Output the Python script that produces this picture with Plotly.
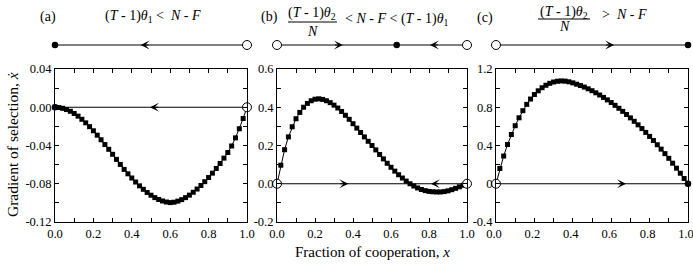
import plotly.graph_objects as go

# ---------------- data ----------------
x_frac = [0.00, 0.02, 0.04, 0.06, 0.08, 0.10, 0.12, 0.14, 0.16, 0.18,
          0.20, 0.22, 0.24, 0.26, 0.28, 0.30, 0.32, 0.34, 0.36, 0.38,
          0.40, 0.42, 0.44, 0.46, 0.48, 0.50, 0.52, 0.54, 0.56, 0.58,
          0.60, 0.62, 0.64, 0.66, 0.68, 0.70, 0.72, 0.74, 0.76, 0.78,
          0.80, 0.82, 0.84, 0.86, 0.88, 0.90, 0.92, 0.94, 0.96, 0.98, 1.00]

grad_a = [0.0000, -0.0003, -0.0011, -0.0024, -0.0042, -0.0065, -0.0093, -0.0126, -0.0163, -0.0203,
          -0.0246, -0.0292, -0.0340, -0.0390, -0.0440, -0.0492, -0.0545, -0.0598, -0.0650, -0.0696,
          -0.0740, -0.0782, -0.0822, -0.0858, -0.0891, -0.0920, -0.0945, -0.0965, -0.0980, -0.0991,
          -0.0997, -0.0993, -0.0982, -0.0966, -0.0945, -0.0919, -0.0889, -0.0855, -0.0818, -0.0778,
          -0.0735, -0.0689, -0.0640, -0.0588, -0.0532, -0.0473, -0.0405, -0.0320, -0.0225, -0.0118, 0.0000]

grad_b = [0.000, 0.097, 0.178, 0.245, 0.298, 0.340, 0.373, 0.400, 0.420, 0.434,
          0.442, 0.444, 0.441, 0.434, 0.424, 0.411, 0.396, 0.378, 0.358, 0.337,
          0.314, 0.291, 0.268, 0.245, 0.222, 0.200, 0.177, 0.153, 0.130, 0.107,
          0.086, 0.066, 0.047, 0.030, 0.014, 0.000, -0.012, -0.022, -0.030, -0.036,
          -0.040, -0.042, -0.043, -0.043, -0.041, -0.037, -0.031, -0.024, -0.016, -0.008, 0.000]

grad_c = [0.000, 0.160, 0.290, 0.410, 0.515, 0.607, 0.690, 0.764, 0.830, 0.886,
          0.933, 0.972, 1.004, 1.030, 1.050, 1.064, 1.072, 1.075, 1.073, 1.066,
          1.055, 1.041, 1.027, 1.011, 0.993, 0.973, 0.951, 0.928, 0.903, 0.877,
          0.849, 0.820, 0.789, 0.757, 0.724, 0.689, 0.653, 0.616, 0.577, 0.537,
          0.495, 0.452, 0.408, 0.362, 0.315, 0.266, 0.215, 0.163, 0.110, 0.055, 0.000]

x_tickvals = [0.0, 0.2, 0.4, 0.6, 0.8, 1.0]
x_ticktext = ["0.0", "0.2", "0.4", "0.6", "0.8", "1.0"]
ya_tickvals = [-0.12, -0.08, -0.04, 0.00, 0.04]
ya_ticktext = ["-0.12", "-0.08", "-0.04", "0.00", "0.04"]
yb_tickvals = [-0.2, 0.0, 0.2, 0.4, 0.6]
yb_ticktext = ["-0.2", "0.0", "0.2", "0.4", "0.6"]
yc_tickvals = [-0.4, 0.0, 0.4, 0.8, 1.2]
yc_ticktext = ["-0.4", "0", "0.4", "0.8", "1.2"]

# fixed points: (x, stable?)  stable -> filled dot, unstable -> open circle
fixed_a = [(0.0, True), (1.0, False)]
fixed_b_plot = [(0.0, False), (1.0, False)]
fixed_b_top = [(0.0, False), (0.63, True), (1.0, False)]
fixed_c = [(0.0, False), (1.0, True)]

# ---------------- layout helpers ----------------
W, H = 693, 269
FONT = "Liberation Serif"


def fx(p):
    return p / W


def fy(p):
    return 1 - p / H


fig = go.Figure()

panels = [
    dict(k="", top="4", xdom=(55, 247), vals=grad_a, yr=[-0.12, 0.04], tv=ya_tickvals, tt=ya_ticktext,
         ymin=0.02, fixed_plot=fixed_a, fixed_top=fixed_a, shift=0,
         arrows_plot=[(0.495, -1)], arrows_top=[(0.446, -1)]),
    dict(k="2", top="5", xdom=(277, 467), vals=grad_b, yr=[-0.2, 0.6], tv=yb_tickvals, tt=yb_ticktext,
         ymin=0.1, fixed_plot=fixed_b_plot, fixed_top=fixed_b_top, shift=0,
         arrows_plot=[(0.375, 1), (0.81, -1)], arrows_top=[(0.347, 1), (0.805, -1)]),
    dict(k="3", top="6", xdom=(496, 688), vals=grad_c, yr=[-0.4, 1.2], tv=yc_tickvals, tt=yc_ticktext,
         ymin=0.2, fixed_plot=fixed_c, fixed_top=fixed_c, shift=-2,
         arrows_plot=[(0.677, 1)], arrows_top=[(0.615, 1)]),
]

annotations = []
tickfont = dict(family=FONT, size=12.5, color="black")


def add_fixed(points, xa, ya, open_size, dot_size):
    for xv, stable in points:
        if stable:
            mk = dict(symbol="circle", size=dot_size, color="black", line=dict(color="black", width=0))
        else:
            mk = dict(symbol="circle", size=open_size, color="white", line=dict(color="black", width=1))
        fig.add_trace(go.Scatter(x=[xv], y=[0], mode="markers", marker=mk, xaxis=xa, yaxis=ya,
                                 cliponaxis=False, showlegend=False, hoverinfo="skip"))


def add_arrow(xv, direction, xa, ya):
    annotations.append(dict(x=xv, y=0, ax=xv - direction * 0.05, ay=0,
                            xref=xa, yref=ya, axref=xa, ayref=ya,
                            text="", showarrow=True, arrowhead=3, arrowsize=1.5,
                            arrowwidth=1, arrowcolor="black"))


for p in panels:
    xa, ya = "x" + p["k"], "y" + p["k"]
    xt, yt = "x" + p["top"], "y" + p["top"]
    # zero line
    fig.add_trace(go.Scatter(x=[0, 1], y=[0, 0], mode="lines", line=dict(color="black", width=1),
                             xaxis=xa, yaxis=ya, cliponaxis=False, showlegend=False, hoverinfo="skip"))
    # gradient curve
    fig.add_trace(go.Scatter(x=x_frac, y=p["vals"], mode="lines+markers",
                             line=dict(color="black", width=1),
                             marker=dict(symbol="square", size=5, color="black"),
                             xaxis=xa, yaxis=ya, cliponaxis=False, showlegend=False, hoverinfo="skip"))
    add_fixed(p["fixed_plot"], xa, ya, 9, 6.5)
    for xv, d in p["arrows_plot"]:
        add_arrow(xv, d, xa, ya)
    # phase line on top
    fig.add_trace(go.Scatter(x=[0, 1], y=[0, 0], mode="lines", line=dict(color="black", width=1),
                             xaxis=xt, yaxis=yt, cliponaxis=False, showlegend=False, hoverinfo="skip"))
    add_fixed(p["fixed_top"], xt, yt, 9, 6.5)
    for xv, d in p["arrows_top"]:
        add_arrow(xv, d, xt, yt)

    xdom = [fx(p["xdom"][0]), fx(p["xdom"][1])]
    xname = "xaxis" + p["k"]
    yname = "yaxis" + p["k"]
    fig.layout[xname] = dict(domain=xdom, range=[0, 1], anchor=ya, showline=True, linecolor="black",
                             linewidth=1, mirror="allticks", ticks="inside", ticklen=4, tickwidth=1,
                             tickcolor="black", tickmode="array", tickvals=x_tickvals, ticktext=x_ticktext,
                             tickfont=tickfont, showgrid=False, zeroline=False, automargin=False,
                             ticklabeloverflow="allow", ticklabelshift=p["shift"],
                             minor=dict(tickmode="linear", tick0=0, dtick=0.1, ticks="inside", ticklen=4,
                                        tickcolor="black", tickwidth=1, showgrid=False))
    fig.layout[yname] = dict(domain=[fy(222), fy(69)], range=p["yr"], anchor=xa, showline=True,
                             linecolor="black", linewidth=1, mirror="allticks", ticks="inside", ticklen=4,
                             tickwidth=1, tickcolor="black", tickmode="array", tickvals=p["tv"],
                             ticktext=p["tt"], tickfont=tickfont, showgrid=False, zeroline=False,
                             automargin=False,
                             minor=dict(tickmode="linear", tick0=0, dtick=p["ymin"], ticks="inside",
                                        ticklen=4, tickcolor="black", tickwidth=1, showgrid=False))
    fig.layout["xaxis" + p["top"]] = dict(domain=xdom, range=[0, 1], anchor=yt, visible=False,
                                          automargin=False)
    fig.layout["yaxis" + p["top"]] = dict(domain=[fy(55), fy(35)], range=[-1, 1], anchor=xt, visible=False,
                                          automargin=False)


def text_ann(txt, px, py, size=14, **kw):
    d = dict(text=txt, x=fx(px), y=fy(py), xref="paper", yref="paper", showarrow=False,
             font=dict(family=FONT, size=size, color="black"), xanchor="center", yanchor="middle")
    d.update(kw)
    annotations.append(d)


# panel titles
text_ann("(a)", 48, 17)
text_ann("(<i>T</i> - 1)<i>θ</i><sub>1</sub> <  <i>N</i> - <i>F</i>", 153, 17)
text_ann("(b)", 269, 17)
text_ann("(<i>T</i> - 1)<i>θ</i><sub>2</sub>", 312, 14)
text_ann("<i>N</i>", 312, 31)
text_ann("< <i>N</i> - <i>F</i> < (<i>T</i> - 1)<i>θ</i><sub>1</sub>", 397, 19)
text_ann("(c)", 485, 18)
text_ann("(<i>T</i> - 1)<i>θ</i><sub>2</sub>", 564, 12)
text_ann("<i>N</i>", 564, 27)
text_ann(">  <i>N</i> - <i>F</i>", 624, 15)

# axis titles
text_ann("Gradient of selection, <i>ẋ</i>", 12, 145, size=15.5, textangle=-90)
text_ann("Fraction of cooperation, <i>x</i>", 372, 252, size=15)

shapes = [
    dict(type="line", xref="paper", yref="paper", x0=fx(288), x1=fx(337), y0=fy(22), y1=fy(22),
         line=dict(color="black", width=1)),
    dict(type="line", xref="paper", yref="paper", x0=fx(538), x1=fx(590), y0=fy(19), y1=fy(19),
         line=dict(color="black", width=1)),
]

fig.update_layout(width=W, height=H, margin=dict(l=0, r=0, t=0, b=0), paper_bgcolor="white",
                  plot_bgcolor="white", showlegend=False, annotations=annotations, shapes=shapes,
                  font=dict(family=FONT, color="black"))

fig.write_html("out.html", config={"displayModeBar": False},
               post_script="document.body.style.margin='0';document.body.style.padding='0';")
